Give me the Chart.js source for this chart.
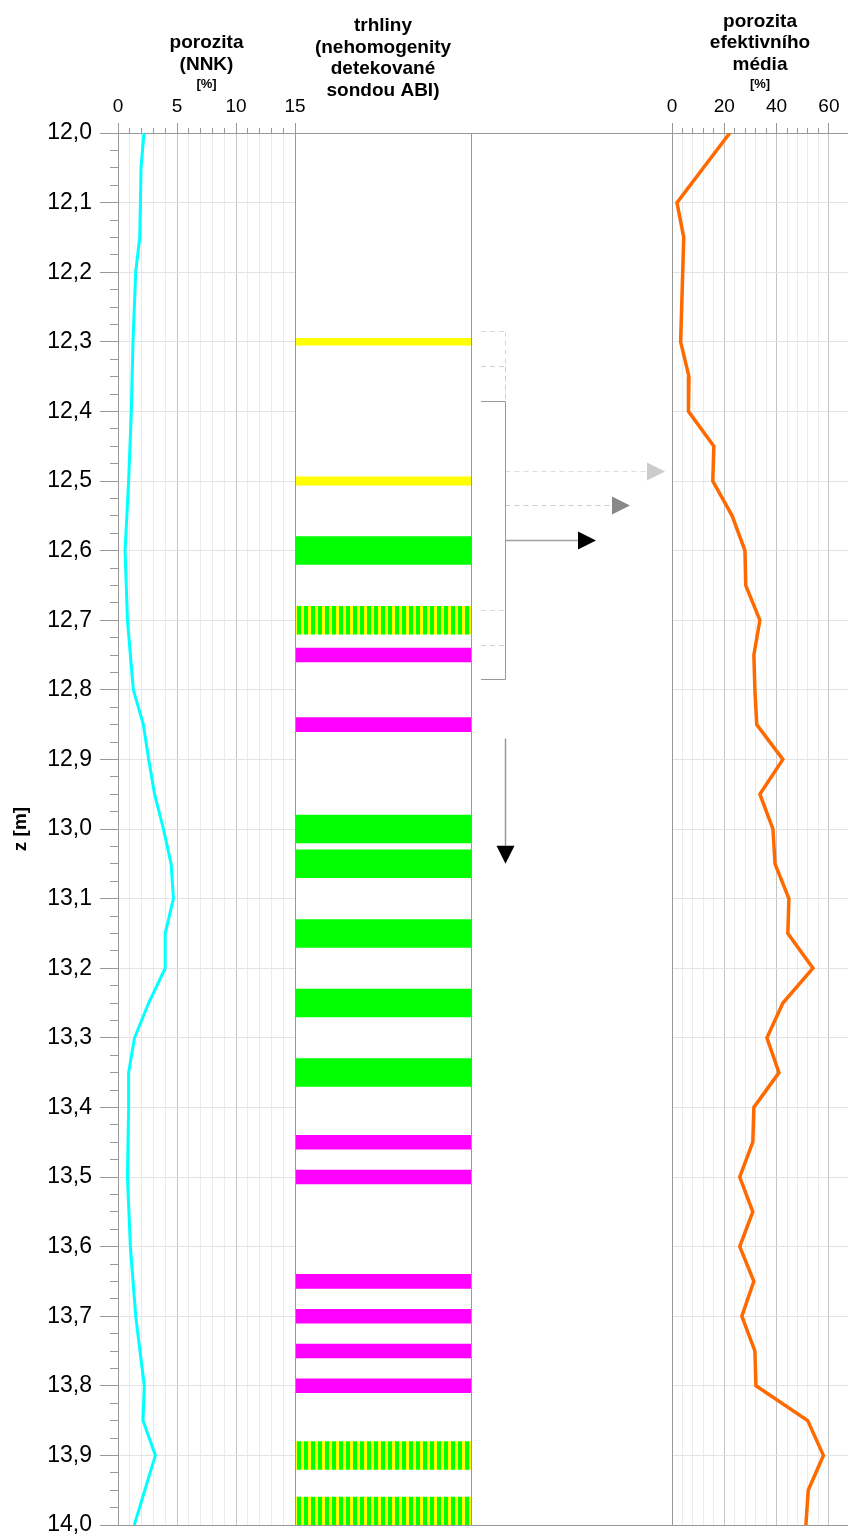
<!DOCTYPE html>
<html>
<head>
<meta charset="utf-8">
<script src="https://cdn.jsdelivr.net/npm/chart.js@4.4.1/dist/chart.umd.min.js"></script>
<style>
  html, body { margin: 0; padding: 0; background: #fff; }
  #wrap { position: relative; width: 848px; height: 1535px; }
  #wrap canvas { position: absolute; left: 0; top: 0; }
</style>
</head>
<body>
<div id="wrap">
  <canvas id="nnk" width="848" height="1535"></canvas>
  <canvas id="trhliny" width="848" height="1535"></canvas>
  <canvas id="efekt" width="848" height="1535"></canvas>
</div>
<script>
// porozita NNK [%] podle hloubky [m]
const nnkDepth = [12.0, 12.05, 12.1, 12.15, 12.2, 12.3, 12.4, 12.5, 12.6, 12.7, 12.75, 12.8, 12.85, 12.9, 12.95, 13.0,
  13.05, 13.1, 13.15, 13.2, 13.25, 13.3, 13.35, 13.4, 13.5, 13.6, 13.7, 13.8, 13.85, 13.9, 14.0];
const nnkPoro = [2.2, 1.95, 1.9, 1.84, 1.5, 1.27, 1.13, 0.9, 0.6, 0.8, 1.05, 1.3, 2.15, 2.6, 3.1, 3.85,
  4.5, 4.7, 4.0, 4.0, 2.6, 1.4, 0.9, 0.9, 0.8, 1.05, 1.5, 2.23, 2.12, 3.17, 1.38];

// porozita efektivniho media [%]
const efDepth = [12.0, 12.1, 12.15, 12.3, 12.35, 12.4, 12.45, 12.5, 12.55, 12.6, 12.65, 12.7, 12.75, 12.8, 12.85, 12.9,
  12.95, 13.0, 13.05, 13.1, 13.15, 13.2, 13.25, 13.3, 13.35, 13.4, 13.45, 13.5, 13.55, 13.6, 13.65, 13.7, 13.75, 13.8,
  13.85, 13.9, 13.95, 14.0];
const efPoro = [22.1, 1.9, 4.5, 3.3, 6.5, 6.3, 16.0, 15.6, 23.0, 27.9, 28.2, 33.6, 31.3, 31.7, 32.4, 42.4,
  33.6, 38.6, 39.4, 44.7, 44.3, 53.9, 42.4, 36.3, 40.9, 31.3, 30.9, 25.9, 30.9, 25.9, 31.3, 26.7, 31.7, 32.1,
  51.9, 57.9, 52.1, 51.2];

// trhliny - intervaly hloubek [od, do]
const yellowZones = [[12.295, 12.305], [12.494, 12.506]];
const greenZones = [[12.58, 12.62], [12.98, 13.02], [13.03, 13.07], [13.13, 13.17], [13.23, 13.27], [13.33, 13.37]];
const magentaZones = [[12.74, 12.76], [12.84, 12.86], [13.44, 13.46], [13.49, 13.51], [13.64, 13.66], [13.69, 13.71],
  [13.74, 13.76], [13.79, 13.81]];
const mixedZones = [[12.68, 12.72], [13.88, 13.92], [13.96, 14.0]];

// klouzave okno (zacatek, delka) a smer posunu
const windowTop = [12.285, 12.335, 12.385];
const windowLength = 0.4;
const shiftFrom = 12.87, shiftTo = 13.05;

const xTicksNnk = [0, 5, 10, 15];
const xTicksEf = [0, 20, 40, 60];

Chart.defaults.font.family = 'Arial, "Liberation Sans", sans-serif';
Chart.defaults.color = '#000';
Chart.defaults.animation = false;

const zMin = 12.0, zMax = 14.0;
const isDm = v => Math.round(v * 40) % 4 === 0;
const clear = 'rgba(0,0,0,0)';
function depthGrid(c) {
  if (!c.tick) return '#999';
  const v = c.tick.value;
  if (Math.abs(v - zMax) < 1e-6) return '#999';
  if (Math.abs(v - zMin) < 1e-6) return clear;
  return isDm(v) ? '#e3e3e3' : clear;
}
function noPad(s) { s.paddingTop = 0; s.paddingBottom = 0; s.paddingLeft = 0; s.paddingRight = 0; }

// leva stopa - porozita NNK
new Chart('nnk', {
  type: 'line',
  data: {
    datasets: [{
      data: nnkDepth.map((z, i) => ({ x: nnkPoro[i], y: z })),
      borderColor: '#00ffff', borderWidth: 3, pointRadius: 0, tension: 0
    }]
  },
  options: {
    responsive: false, indexAxis: 'y',
    layout: { padding: { left: 0, right: 553, top: 0, bottom: 10 } },
    plugins: {
      legend: { display: false }, tooltip: { enabled: false },
      title: { display: true, fullSize: false, text: ['porozita', '(NNK)'],
        font: { size: 19, weight: 'bold', lineHeight: '22px' }, padding: { top: 32, bottom: 0 } },
      subtitle: { display: true, fullSize: false, text: '[%]',
        font: { size: 13, weight: 'bold', lineHeight: '16px' }, padding: { top: 0, bottom: 0 } }
    },
    scales: {
      x: {
        type: 'linear', position: 'top', min: 0, max: 15,
        afterFit: s => { s.height = 41; noPad(s); },
        border: { color: '#999' },
        grid: {
          color: c => c.tick.value % 5 ? '#ebebeb' : (c.tick.value % 15 ? '#c4c4c4' : '#999'),
          tickColor: '#999', tickLength: 10,
          tickBorderDash: c => c.tick.value % 5 ? [5, 5] : [],
          tickBorderDashOffset: c => c.tick.value % 5 ? 5 : 0
        },
        ticks: { stepSize: 1, autoSkip: false, maxRotation: 0, padding: 5, font: { size: 19 },
          callback: v => xTicksNnk.includes(v) ? v : '' }
      },
      y: {
        type: 'linear', min: zMin, max: zMax, reverse: true,
        afterFit: s => { s.width = 118; noPad(s); },
        border: { color: '#999' },
        grid: {
          color: depthGrid, tickColor: '#999', tickLength: 18,
          tickBorderDash: c => isDm(c.tick.value) ? [] : [8, 10],
          tickBorderDashOffset: c => isDm(c.tick.value) ? 0 : 8
        },
        ticks: { stepSize: 0.025, autoSkip: false, padding: 8, font: { size: 23 },
          callback: v => isDm(v) ? v.toFixed(1).replace('.', ',') : '' },
        title: { display: true, text: 'z [m]', font: { size: 19, weight: 'bold' }, padding: { top: 9.6, bottom: 0 } }
      }
    }
  }
});

// stredni stopa - trhliny
const trCanvas = document.getElementById('trhliny');
function stripes() {
  const c = document.createElement('canvas');
  c.width = 7; c.height = 4;
  const g = c.getContext('2d');
  g.fillStyle = '#00ff00'; g.fillRect(0, 0, 7, 4);
  g.fillStyle = '#ffff00'; g.fillRect(0, 0, 3, 4);
  return trCanvas.getContext('2d').createPattern(c, 'repeat');
}
const zone = (zones, color) => ({
  type: 'bar', data: zones.map(z => ({ x: 'trhliny', y: z })), backgroundColor: color,
  grouped: false, barPercentage: 1, categoryPercentage: 1, borderWidth: 0
});

function line(ctx, x1, y1, x2, y2) { ctx.beginPath(); ctx.moveTo(x1, y1); ctx.lineTo(x2, y2); ctx.stroke(); }
function tri(ctx, x, y, down, size, color) {
  ctx.fillStyle = color;
  ctx.beginPath();
  ctx.moveTo(x, y);
  if (down) { ctx.lineTo(x - size / 2, y - size); ctx.lineTo(x + size / 2, y - size); }
  else { ctx.lineTo(x - size, y - size / 2); ctx.lineTo(x - size, y + size / 2); }
  ctx.closePath();
  ctx.fill();
}

const arrows = {
  id: 'arrows',
  afterDatasetsDraw(chart) {
    const { ctx, chartArea: a } = chart;
    const ys = chart.scales.y;
    const py = v => Math.round(ys.getPixelForValue(v)) + 0.5;
    const edge = 672;
    const bx0 = a.right + 10, bx1 = a.right + 34.5;
    const lineCol = ['#d8d8d8', '#cfcfcf', '#999'];
    const dash = [[5, 4], [5, 4], []];
    const arrowLine = ['#dddddd', '#cccccc', '#a0a0a0'];
    const headCol = ['#cccccc', '#888888', '#000000'];
    const reach = [194, 159, 125];
    ctx.save();
    ctx.lineWidth = 1;
    ctx.strokeStyle = '#999';
    line(ctx, Math.round(a.left) + 0.5, a.top, Math.round(a.left) + 0.5, a.bottom);
    line(ctx, Math.round(a.right) + 0.5, a.top, Math.round(a.right) + 0.5, a.bottom);
    line(ctx, a.right, py(zMin), edge, py(zMin));
    line(ctx, a.left, py(zMax), edge, py(zMax));
    windowTop.forEach((t, i) => {
      const top = py(t), bot = py(t + windowLength), mid = py(t + windowLength / 2);
      ctx.strokeStyle = lineCol[i];
      ctx.setLineDash(dash[i]);
      ctx.lineWidth = 1;
      line(ctx, bx0, top, bx1, top);
      line(ctx, bx0, bot, bx1, bot);
      line(ctx, bx1, top, bx1, bot);
      const tip = a.right + reach[i];
      ctx.strokeStyle = arrowLine[i];
      ctx.lineWidth = i === 2 ? 1.5 : 1;
      line(ctx, bx1, mid, tip - 18, mid);
      ctx.setLineDash([]);
      tri(ctx, tip, mid, false, 18, headCol[i]);
    });
    const y0 = ys.getPixelForValue(shiftFrom), y1 = ys.getPixelForValue(shiftTo);
    ctx.strokeStyle = '#999';
    ctx.lineWidth = 1.5;
    line(ctx, bx1, y0, bx1, y1 - 18);
    tri(ctx, bx1, y1, true, 18, '#000');
    ctx.restore();
  }
};

new Chart(trCanvas, {
  type: 'bar',
  data: {
    labels: ['trhliny'],
    datasets: [
      zone(yellowZones, '#ffff00'),
      zone(greenZones, '#00ff00'),
      zone(magentaZones, '#ff00ff'),
      zone(mixedZones, stripes())
    ]
  },
  options: {
    responsive: false,
    layout: { padding: { left: 295, right: 377, top: 0, bottom: 10 } },
    plugins: {
      legend: { display: false }, tooltip: { enabled: false },
      title: { display: true, fullSize: false, text: ['trhliny', '(nehomogenity', 'detekované', 'sondou ABI)'],
        font: { size: 19, weight: 'bold', lineHeight: '21.5px' }, padding: { top: 15.5, bottom: 0 } }
    },
    scales: {
      x: {
        type: 'category', position: 'top',
        afterFit: s => { s.height = 31.5; noPad(s); },
        border: { color: '#999' },
        grid: { offset: true, color: '#999', drawTicks: false },
        ticks: { display: false }
      },
      y: { type: 'linear', display: false, min: zMin, max: zMax, reverse: true }
    }
  },
  plugins: [arrows]
});

// prava stopa - porozita efektivniho media
new Chart('efekt', {
  type: 'line',
  data: {
    datasets: [{
      data: efDepth.map((z, i) => ({ x: efPoro[i], y: z })),
      borderColor: '#ff6a00', borderWidth: 3.5, pointRadius: 0, tension: 0
    }]
  },
  options: {
    responsive: false, indexAxis: 'y',
    layout: { padding: { left: 672, right: 0, top: 0, bottom: 10 } },
    plugins: {
      legend: { display: false }, tooltip: { enabled: false },
      title: { display: true, fullSize: false, text: ['porozita', 'efektivního', 'média'],
        font: { size: 19, weight: 'bold', lineHeight: '21.5px' }, padding: { top: 11, bottom: 0 } },
      subtitle: { display: true, fullSize: false, text: '[%]',
        font: { size: 13, weight: 'bold', lineHeight: '16px' }, padding: { top: 0.5, bottom: 0 } }
    },
    scales: {
      x: {
        type: 'linear', position: 'top', min: 0, max: 67.3,
        afterFit: s => { s.height = 41; noPad(s); },
        border: { color: '#999' },
        grid: {
          color: c => c.tick.value % 20 ? '#ebebeb' : (c.tick.value === 0 ? '#999' : '#c4c4c4'),
          tickColor: '#999', tickLength: 10,
          tickBorderDash: c => c.tick.value % 20 ? [5, 5] : [],
          tickBorderDashOffset: c => c.tick.value % 20 ? 5 : 0
        },
        ticks: { stepSize: 4, autoSkip: false, maxRotation: 0, padding: 5, font: { size: 19 },
          callback: v => xTicksEf.includes(v) ? v : '' }
      },
      y: {
        type: 'linear', min: zMin, max: zMax, reverse: true,
        afterFit: s => { s.width = 0; noPad(s); },
        border: { color: '#999' },
        grid: { color: depthGrid, drawTicks: false },
        ticks: { display: false, stepSize: 0.1, autoSkip: false }
      }
    }
  }
});
</script>
</body>
</html>
